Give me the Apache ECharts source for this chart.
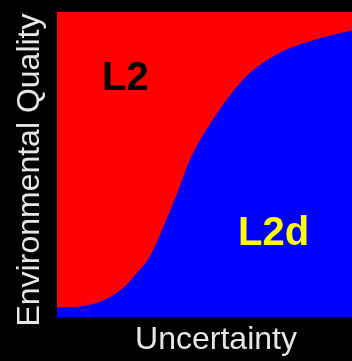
<!DOCTYPE html>
<html>
<head>
<meta charset="utf-8">
<script src="https://cdn.jsdelivr.net/npm/echarts@6/dist/echarts.min.js"></script>
<style>
  html, body { margin: 0; padding: 0; background: #000; }
  #chart { width: 352px; height: 361px; }
</style>
</head>
<body>
<div id="chart"></div>
<script>
// Uncertainty (0-100) along x, and the environmental-quality boundary between L2 and L2d
const uncertainty = [0, 3.4, 6.8, 10.2, 13.6, 16.9, 20.3, 23.7, 27.1, 30.9, 34.3, 37.2, 40.0, 42.6, 45.1, 48.5, 52.4, 55.9, 59.7, 64.7, 70.5, 76.3, 82.4, 90.2, 96.9, 100];
const boundary    = [2.95, 3.0, 3.2, 3.6, 4.5, 5.8, 7.8, 10.5, 14.3, 18.7, 25.2, 31.8, 38.4, 44.9, 51.3, 57.8, 63.8, 68.9, 73.8, 79.3, 83.6, 86.9, 89.2, 91.5, 93.1, 93.8];

const regionLabels = ['L2', 'L2d'];
const axisTitles = { x: 'Uncertainty', y: 'Environmental Quality' };

const chart = echarts.init(document.getElementById('chart'), null, { renderer: 'canvas' });

const points = uncertainty.map((u, i) => [u, boundary[i]]);

chart.setOption({
  backgroundColor: '#000000',
  animation: false,
  grid: {
    left: 57, right: 0, top: 12, bottom: 44,
    show: true,
    backgroundColor: '#ff0000',
    borderWidth: 0
  },
  xAxis: {
    type: 'value', min: 0, max: 100,
    axisLine: { show: false }, axisTick: { show: false },
    axisLabel: { show: false }, splitLine: { show: false }
  },
  yAxis: {
    type: 'value', min: 0, max: 100,
    axisLine: { show: false }, axisTick: { show: false },
    axisLabel: { show: false }, splitLine: { show: false }
  },
  series: [{
    type: 'line',
    data: points,
    smooth: 0.3,
    symbol: 'none',
    lineStyle: { width: 1, color: '#0000ff' },
    areaStyle: { color: '#0000ff', opacity: 1, origin: 'start' }
  }],
  graphic: [
    {
      type: 'text', left: 102, top: 59, z: 100,
      style: { text: regionLabels[0], fill: '#000000',
        font: 'bold 40px "Liberation Sans", Arial, sans-serif' }
    },
    {
      type: 'text', left: 238, top: 214, z: 100,
      style: { text: regionLabels[1], fill: '#ffff00',
        font: 'bold 40px "Liberation Sans", Arial, sans-serif' }
    },
    {
      type: 'text', x: 216, y: 340, z: 100,
      style: { text: axisTitles.x, fill: '#e6e6e6',
        font: '32px "Liberation Sans", Arial, sans-serif',
        align: 'center', verticalAlign: 'middle' }
    },
    {
      type: 'text', x: 30, y: 170, rotation: Math.PI / 2, z: 100,
      style: { text: axisTitles.y, fill: '#e6e6e6',
        font: '32px "Liberation Sans", Arial, sans-serif',
        align: 'center', verticalAlign: 'middle' }
    }
  ]
});
</script>
</body>
</html>
